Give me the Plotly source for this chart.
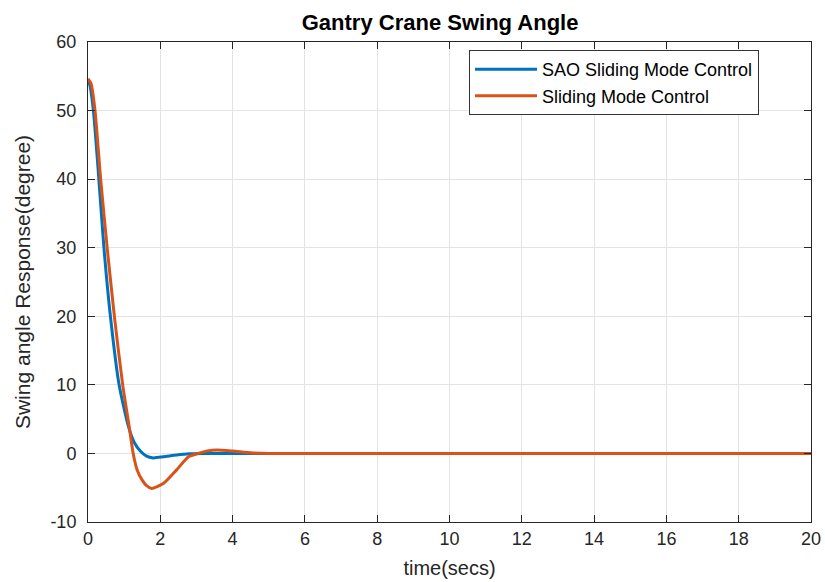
import plotly.graph_objects as go

# Data
t_sao = [0, 0.06, 0.15, 0.30, 0.44, 0.62, 0.86, 1.12, 1.28, 1.44, 1.62, 1.81, 2.08, 2.45, 2.8, 3.2, 4.0, 5.0, 20]
y_sao = [54.6, 53.5, 50, 40, 30, 20, 10, 3.9, 1.6, 0.4, -0.4, -0.65, -0.5, -0.23, -0.05, 0, 0, 0, 0]

t_smc = [0, 0.08, 0.19, 0.35, 0.53, 0.73, 0.96, 1.14, 1.25, 1.36, 1.5, 1.62, 1.76, 2.08, 2.45, 2.78, 3.05, 3.3, 3.56, 4.0, 4.5, 5.0, 20]
y_smc = [54.6, 54.0, 50.2, 40, 30, 20, 10, 3.9, 0, -2.4, -3.9, -4.7, -5.1, -4.4, -2.4, -0.5, 0, 0.35, 0.5, 0.35, 0.1, 0, 0]

x_ticks = list(range(0, 21, 2))
y_ticks = list(range(-10, 61, 10))

FONT = "Liberation Sans, Arial, sans-serif"
TXT = "#262626"

fig = go.Figure()
fig.add_trace(go.Scatter(x=t_sao, y=y_sao, mode="lines", name="SAO Sliding Mode Control",
                         line=dict(color="#0072BD", width=3, shape="spline", smoothing=0.6)))
fig.add_trace(go.Scatter(x=t_smc, y=y_smc, mode="lines", name="Sliding Mode Control",
                         line=dict(color="#D95319", width=3, shape="spline", smoothing=0.6)))

axis_common = dict(showgrid=True, gridcolor="#e3e3e3", gridwidth=1, zeroline=False,
                   showline=True, linecolor=TXT, linewidth=1, mirror="allticks",
                   ticks="inside", ticklen=7, tickcolor=TXT, automargin=False,
                   tickfont=dict(family=FONT, size=18, color=TXT))

fig.update_xaxes(range=[0, 20], tickvals=x_ticks, ticktext=[str(v) for v in x_ticks],
                 title=dict(text="time(secs)", font=dict(family=FONT, size=20, color=TXT), standoff=13),
                 **axis_common)
fig.update_yaxes(range=[-10, 60], tickvals=y_ticks, ticktext=[str(v) for v in y_ticks],
                 ticklabelstandoff=7,
                 title=dict(text="Swing angle Response(degree)", font=dict(family=FONT, size=21, color=TXT), standoff=14),
                 **axis_common)

fig.update_layout(
    width=825, height=582,
    margin=dict(l=88, r=14, t=42, b=60),
    paper_bgcolor="white", plot_bgcolor="white",
    title=dict(text="<b>Gantry Crane Swing Angle</b>", x=0.487, xref="paper", xanchor="center",
               y=0.962, yanchor="middle", font=dict(family=FONT, size=22, color="black")),
    legend=dict(x=0.527, y=0.983, xanchor="left", yanchor="top", bgcolor="white",
                bordercolor="#333333", borderwidth=1, itemwidth=62,
                font=dict(family=FONT, size=18, color="black"), tracegroupgap=0),
    showlegend=True,
)

# remove the default 8px page margin so the figure fills the 825x582 window exactly
fig.write_html("out.html", config={"displayModeBar": False},
               post_script="document.body.style.margin='0';document.documentElement.style.overflow='hidden';")
